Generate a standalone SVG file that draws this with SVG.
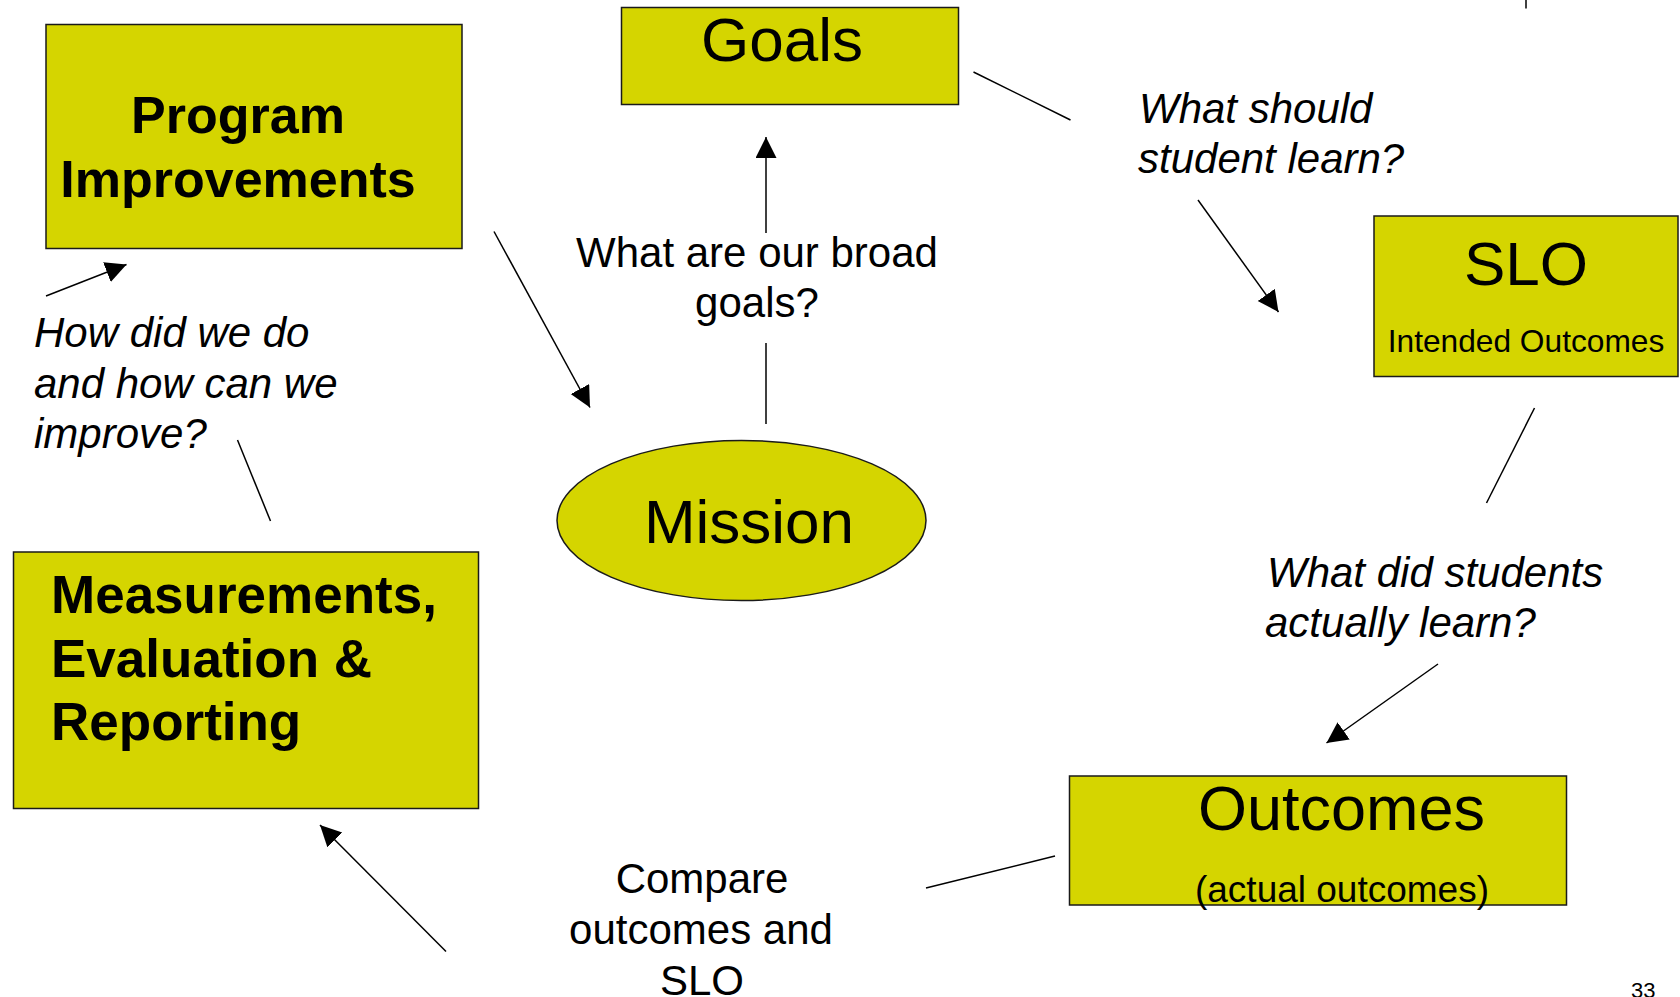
<svg xmlns="http://www.w3.org/2000/svg" width="1680" height="997" viewBox="0 0 1680 997">
  <defs>
    <marker id="ah" markerUnits="userSpaceOnUse" markerWidth="22" markerHeight="22" refX="21" refY="10.5" orient="auto">
      <path d="M0,0 L21,10.5 L0,21 z" fill="#000"/>
    </marker>
    <style>
      .box { fill: #D5D500; stroke: #1a1a1a; stroke-width: 1.5; }
      .t { font-family: "Liberation Sans", Arial, sans-serif; fill: #000; }
      .b { font-weight: bold; }
      .i { font-style: italic; }
      .c { text-anchor: middle; }
      .ln { stroke: #000; stroke-width: 1.5; fill: none; }
      .arr { stroke: #000; stroke-width: 1.5; fill: none; marker-end: url(#ah); }
    </style>
  </defs>
  <rect width="1680" height="997" fill="#fff"/>

  <g id="connectors">
    <line class="ln" x1="1526" y1="0" x2="1526" y2="8.5"/>
    <line class="arr" x1="766" y1="233" x2="766" y2="137"/>
    <line class="ln" x1="766" y1="343" x2="766" y2="424"/>
    <line class="ln" x1="973.5" y1="72" x2="1070.5" y2="120"/>
    <line class="arr" x1="1198" y1="200" x2="1278.5" y2="312"/>
    <line class="ln" x1="1534.5" y1="408" x2="1486.5" y2="503"/>
    <line class="arr" x1="1438" y1="664" x2="1326.5" y2="743"/>
    <line class="ln" x1="926" y1="888" x2="1055" y2="856"/>
    <line class="arr" x1="446" y1="951.5" x2="320" y2="825"/>
    <line class="ln" x1="237.5" y1="440" x2="270.5" y2="521"/>
    <line class="arr" x1="46" y1="296" x2="126.5" y2="264.5"/>
    <line class="arr" x1="494" y1="231.5" x2="590" y2="407.5"/>
  </g>

  <g id="program-improvements">
    <rect class="box" x="46" y="24.5" width="416" height="224"/>
    <text class="t b c" x="238" y="133" font-size="52">Program</text>
    <text class="t b c" x="238" y="197" font-size="52">Improvements</text>
  </g>

  <g id="goals">
    <rect class="box" x="621.5" y="7.5" width="337" height="97"/>
    <text class="t c" x="782" y="61" font-size="62">Goals</text>
  </g>

  <g id="slo">
    <rect class="box" x="1374" y="216" width="304" height="160.5"/>
    <text class="t c" x="1526" y="285" font-size="62">SLO</text>
    <text class="t c" x="1526" y="351.5" font-size="31.7">Intended Outcomes</text>
  </g>

  <g id="mission">
    <ellipse class="box" cx="741.5" cy="520.5" rx="184.5" ry="80"/>
    <text class="t c" x="749" y="543" font-size="62">Mission</text>
  </g>

  <g id="outcomes">
    <rect class="box" x="1069.5" y="776" width="497" height="129"/>
    <text class="t c" x="1341.5" y="830" font-size="63">Outcomes</text>
    <text class="t c" x="1342" y="902" font-size="37">(actual outcomes)</text>
  </g>

  <g id="measurements">
    <rect class="box" x="13.5" y="552" width="465" height="256.5"/>
    <text class="t b" x="51" y="612.5" font-size="53">Measurements,</text>
    <text class="t b" x="51" y="676.5" font-size="53">Evaluation &amp;</text>
    <text class="t b" x="51" y="740" font-size="53">Reporting</text>
  </g>

  <g id="labels">
    <text class="t c" x="757" y="267" font-size="42">What are our broad</text>
    <text class="t c" x="757" y="317" font-size="42">goals?</text>
    <text class="t i" x="1139" y="123" font-size="42">What should</text>
    <text class="t i" x="1138" y="173" font-size="42">student learn?</text>
    <text class="t i" x="1267" y="587" font-size="42">What did students</text>
    <text class="t i" x="1265" y="637" font-size="42">actually learn?</text>
    <text class="t i" x="34" y="346.5" font-size="42">How did we do</text>
    <text class="t i" x="34" y="398" font-size="42">and how can we</text>
    <text class="t i" x="34" y="448" font-size="42">improve?</text>
    <text class="t c" x="702" y="893" font-size="42">Compare</text>
    <text class="t c" x="701" y="944" font-size="42">outcomes and</text>
    <text class="t c" x="702" y="995" font-size="42">SLO</text>
    <text class="t" x="1631" y="998" font-size="22">33</text>
  </g>
</svg>
